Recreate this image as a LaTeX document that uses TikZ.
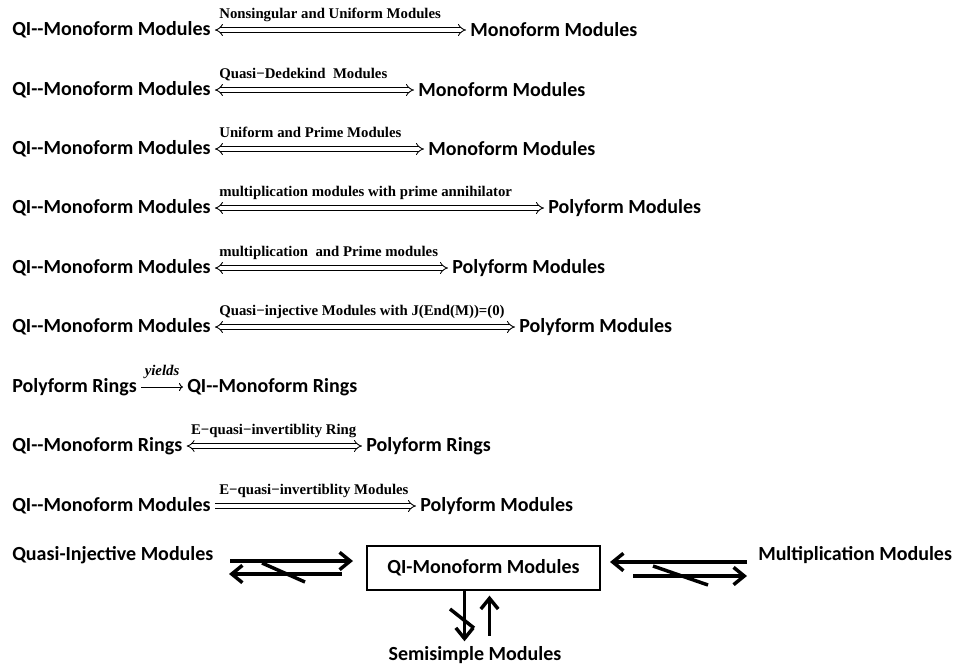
\documentclass[tikz,border=0pt]{standalone}
\usepackage{fontspec}
\setmainfont{Carlito}
\newfontfamily\qilabelfont{Liberation Serif}
\usetikzlibrary{arrows.meta,positioning,calc}
\tikzset{
  qi/term/.style={
    font=\fontsize{15}{17}\selectfont\bfseries,
    inner sep=3pt,
    anchor=west
  },
  qi/label/.style={
    font=\qilabelfont\fontsize{11.1}{13}\selectfont\bfseries,
    inner sep=0pt,
    anchor=base west
  },
  qi/iff/.style={double, double distance=2.5pt, line width=0.65pt, {Implies}-{Implies}},
  qi/imp/.style={double, double distance=2.5pt, line width=0.65pt, -{Implies}},
  qi/yield/.style={line width=0.7pt, -{To[length=3pt,width=6pt]}},
  qi/box/.style={
    draw,
    line width=0.9pt,
    minimum width=174.75pt,
    minimum height=33pt,
    font=\fontsize{15}{17}\selectfont\bfseries
  },
  qi/bigarrow/.style={line width=2.6pt, -{Straight Barb[length=8pt,width=13pt]}},
  qi/slash/.style={line width=2.6pt}
}

\begin{document}
\begin{tikzpicture}[x=0.75pt,y=-0.75pt]
  \useasboundingbox[fill=white] (0,0) rectangle (957,668);

  % equivalences
  \node[qi/term] (l1) at (8,30) {QI-{}-Monoform Modules};
  \node[qi/term] (r1) at (466,30) {Monoform Modules};
  \draw[qi/iff] (l1) -- node[qi/label, at start, xshift=3pt, yshift=8.6pt] {Nonsingular and Uniform Modules} (r1);

  \node[qi/term] (l2) at (8,90) {QI-{}-Monoform Modules};
  \node[qi/term] (r2) at (414,90) {Monoform Modules};
  \draw[qi/iff] (l2) -- node[qi/label, at start, xshift=3pt, yshift=8.6pt] {Quasi−Dedekind~ Modules} (r2);

  \node[qi/term] (l3) at (8,149) {QI-{}-Monoform Modules};
  \node[qi/term] (r3) at (424,149) {Monoform Modules};
  \draw[qi/iff] (l3) -- node[qi/label, at start, xshift=3pt, yshift=8.6pt] {Uniform and Prime Modules} (r3);

  \node[qi/term] (l4) at (8,208) {QI-{}-Monoform Modules};
  \node[qi/term] (r4) at (544,208) {Polyform Modules};
  \draw[qi/iff] (l4) -- node[qi/label, at start, xshift=3pt, yshift=8.6pt] {multiplication modules with prime annihilator} (r4);

  \node[qi/term] (l5) at (8,268) {QI-{}-Monoform Modules};
  \node[qi/term] (r5) at (448,268) {Polyform Modules};
  \draw[qi/iff] (l5) -- node[qi/label, at start, xshift=3pt, yshift=8.6pt] {multiplication~ and Prime modules} (r5);

  \node[qi/term] (l6) at (8,327) {QI-{}-Monoform Modules};
  \node[qi/term] (r6) at (515,327) {Polyform Modules};
  \draw[qi/iff] (l6) -- node[qi/label, at start, xshift=3pt, yshift=8.6pt] {Quasi−injective Modules with J(End(M))=(0)} (r6);

  % rings
  \node[qi/term] (l7) at (8,387) {Polyform Rings};
  \node[qi/term] (r7) at (183,387) {QI-{}-Monoform Rings};
  \draw[qi/yield] (l7) -- node[qi/label, anchor=base, midway, yshift=8.6pt, font=\qilabelfont\fontsize{11.1}{13}\selectfont\bfseries\itshape] {yields} (r7);

  \node[qi/term] (l8) at (8,446) {QI-{}-Monoform Rings};
  \node[qi/term] (r8) at (362,446) {Polyform Rings};
  \draw[qi/iff] (l8) -- node[qi/label, at start, xshift=3pt, yshift=8.6pt] {E−quasi−invertiblity Ring} (r8);

  \node[qi/term] (l9) at (8,506) {QI-{}-Monoform Modules};
  \node[qi/term] (r9) at (416,506) {Polyform Modules};
  \draw[qi/imp] (l9) -- node[qi/label, at start, xshift=3pt, yshift=8.6pt] {E−quasi−invertiblity Modules} (r9);

  % bottom scheme
  \node[qi/term] (qinj) at (8,555) {Quasi-Injective Modules};
  \node[qi/box] (qimono) at (483.5,568) {QI-Monoform Modules};
  \node[qi/term] (mult) at (754,555) {Multiplication Modules};
  \node[qi/term, anchor=center] (semi) at (475,655) {Semisimple Modules};

  \coordinate (qinjA) at (230,561);
  \coordinate (qimonoA) at (353,561);
  \coordinate (qimonoB) at (342,574);
  \coordinate (qinjB) at (229,574);
  \draw[qi/bigarrow] (qinjA) -- (qimonoA);
  \draw[qi/bigarrow] (qimonoB) -- (qinjB);
  \draw[qi/slash] (262,563) -- (305,582);

  \coordinate (multA) at (747,562);
  \coordinate (qimonoC) at (610,562);
  \coordinate (qimonoD) at (633,576);
  \coordinate (multB) at (747,576);
  \draw[qi/bigarrow] (multA) -- (qimonoC);
  \draw[qi/bigarrow] (qimonoD) -- (multB);
  \draw[qi/slash] (653,566) -- (708,585);

  \draw[qi/bigarrow] ([xshift=-14.25pt]qimono.south) -- ([xshift=-14.25pt,yshift=-38pt]qimono.south);
  \draw[qi/bigarrow] ([xshift=4.5pt,yshift=-33.75pt]qimono.south) -- ([xshift=4.5pt,yshift=-3.75pt]qimono.south);
  \draw[qi/slash] (450,609) -- (474,628);
\end{tikzpicture}
\end{document}
